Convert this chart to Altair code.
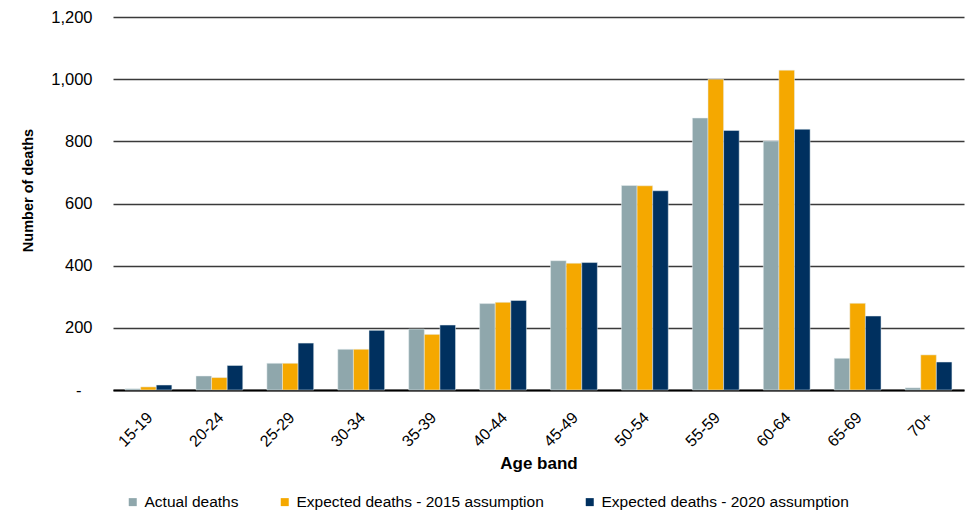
import altair as alt
import pandas as pd

# Deaths by age band: actual vs expected under two mortality assumptions
age_bands = ["15-19", "20-24", "25-29", "30-34", "35-39", "40-44",
             "45-49", "50-54", "55-59", "60-64", "65-69", "70+"]
actual = [4, 45, 86, 131, 196, 278, 416, 658, 875, 801, 102, 7]
expected_2015 = [10, 40, 86, 131, 179, 282, 408, 657, 1000, 1029, 279, 113]
expected_2020 = [16, 79, 151, 192, 209, 288, 410, 641, 835, 839, 238, 90]

series_names = ["Actual deaths",
                "Expected deaths - 2015 assumption",
                "Expected deaths - 2020 assumption"]
series_colors = ["#8FA7AC", "#F5A800", "#00305F"]

rows = []
for name, values in zip(series_names, [actual, expected_2015, expected_2020]):
    for band, v in zip(age_bands, values):
        rows.append({"band": band, "series": name, "deaths": v})
df = pd.DataFrame(rows)

FONT = "Liberation Sans"

bars = alt.Chart(df).mark_bar(stroke="#e6eef0", strokeWidth=0.5).encode(
    x=alt.X(
        "band:N",
        sort=age_bands,
        scale=alt.Scale(paddingInner=0.34, paddingOuter=0.17),
        axis=alt.Axis(
            title="Age band",
            labelAngle=-45,
            labelFontSize=16,
            labelColor="#000000",
            labelPadding=19,
            labelOffset=-4,
            ticks=False,
            domain=True,
            domainColor="#000000",
            domainWidth=2,
            titleFontSize=17,
            titleFontWeight="bold",
            titleColor="#000000",
            titlePadding=6,
            grid=False,
        ),
    ),
    xOffset=alt.XOffset("series:N", sort=series_names,
                        scale=alt.Scale(paddingInner=0, paddingOuter=0)),
    y=alt.Y(
        "deaths:Q",
        scale=alt.Scale(domain=[0, 1200], nice=False),
        axis=alt.Axis(
            title="Number of deaths",
            values=[0, 200, 400, 600, 800, 1000, 1200],
            labelExpr="datum.value == 0 ? '-' : format(datum.value, ',')",
            labelFontSize=16.5,
            labelColor="#000000",
            labelPadding={"condition": {"test": "datum.value == 0", "value": 32},
                          "value": 21},
            ticks=False,
            domain=False,
            grid=True,
            gridColor="#3a3a3a",
            gridWidth=1.3,
            titleFontSize=14.5,
            titleFontWeight="bold",
            titleColor="#000000",
            titleAngle=-90,
            titleAlign="center",
            titleBaseline="middle",
            titleX=-85,
            titleY=173,
        ),
    ),
    color=alt.Color(
        "series:N",
        sort=series_names,
        scale=alt.Scale(domain=series_names, range=series_colors),
        legend=alt.Legend(
            title=None,
            orient="none",
            direction="horizontal",
            columns=3,
            legendX=12,
            legendY=477,
            symbolType="square",
            symbolSize=64,
            symbolStrokeWidth=0,
            labelFontSize=15.5,
            labelColor="#000000",
            labelOffset=4,
            labelLimit=0,
            columnPadding=38,
            padding=0,
        ),
    ),
).properties(
    width=851,
    height=373,
    autosize=alt.AutoSizeParams(type="none"),
    padding={"left": 113, "top": 17, "right": 4, "bottom": 122},
).configure(
    font=FONT,
).configure_view(
    stroke=None,
)

bars.save("out.html", embed_options={"renderer": "svg", "actions": False})
